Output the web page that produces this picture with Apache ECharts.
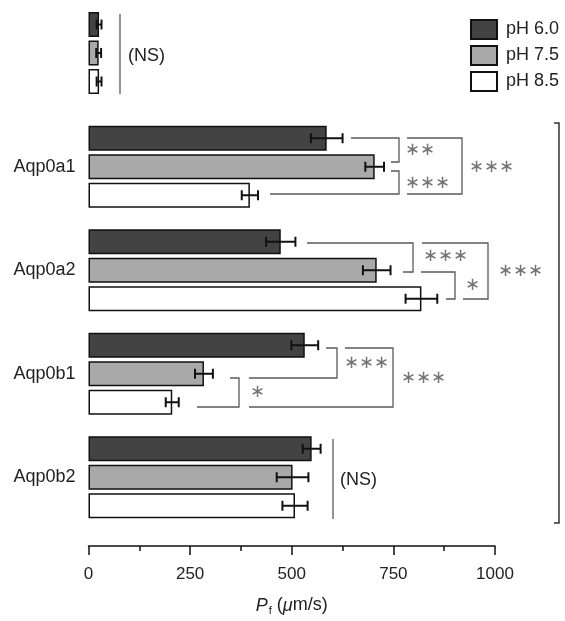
<!DOCTYPE html>
<html>
<head>
<meta charset="utf-8">
<script src="https://cdn.jsdelivr.net/npm/echarts@6/dist/echarts.min.js"></script>
<style>
html,body{margin:0;padding:0;background:#fff;}
#main{width:565px;height:621px;}
</style>
</head>
<body>
<div id="main"></div>
<script>
// ---- data ----
const seriesNames = ['pH 6.0', 'pH 7.5', 'pH 8.5'];
const groups = ['Aqp0a1', 'Aqp0a2', 'Aqp0b1', 'Aqp0b2'];
const ph60 = [586, 473, 532, 549];
const ph60Err = [39, 36, 33, 22];
const ph75 = [704, 709, 284, 502];
const ph75Err = [23, 34, 22, 39];
const ph85 = [397, 819, 206, 508];
const ph85Err = [20, 39, 16, 31];
const controlVals = [26, 25, 26];
const controlErr = [6, 6, 6];
const xTicks = [0, 250, 500, 750, 1000];

// ---- styles ----
const FONT = 'Liberation Sans, Arial, sans-serif';
const colors = ['#434343', '#a9a9a9', '#ffffff'];
const BAR_W = 25;
const BAR_GAP = 0.14;
const STEP = BAR_W * (1 + BAR_GAP);

const chart = echarts.init(document.getElementById('main'), null, {renderer: 'canvas'});

function errRender(seriesIdx) {
  return function (params, api) {
    const v = api.value(0), cat = api.value(1), e = api.value(2);
    const off = (seriesIdx - 1) * STEP;
    const c = api.coord([v, cat]);
    const l = api.coord([v - e, cat]);
    const r = api.coord([v + e, cat]);
    const y = c[1] + off;
    const st = {stroke: '#111', lineWidth: 2};
    return {
      type: 'group',
      children: [
        {type: 'line', shape: {x1: l[0], y1: y, x2: r[0], y2: y}, style: st},
        {type: 'line', shape: {x1: l[0], y1: y - 5, x2: l[0], y2: y + 5}, style: st},
        {type: 'line', shape: {x1: r[0], y1: y - 5, x2: r[0], y2: y + 5}, style: st}
      ]
    };
  };
}

const mainVals = [ph60, ph75, ph85];
const mainErrs = [ph60Err, ph75Err, ph85Err];

const series = [];
// control group (grid 0)
seriesNames.forEach((n, i) => {
  series.push({
    name: n, type: 'bar', xAxisIndex: 0, yAxisIndex: 0,
    data: [controlVals[i]], barWidth: BAR_W, barGap: (BAR_GAP * 100) + '%',
    itemStyle: {color: colors[i], borderColor: '#111', borderWidth: 1.5},
    silent: true
  });
});
seriesNames.forEach((n, i) => {
  series.push({
    type: 'custom', xAxisIndex: 0, yAxisIndex: 0, z: 5,
    renderItem: errRender(i),
    encode: {x: 0, y: 1},
    data: [[controlVals[i], 0, controlErr[i]]]
  });
});
// main groups (grid 1)
seriesNames.forEach((n, i) => {
  series.push({
    name: n, type: 'bar', xAxisIndex: 1, yAxisIndex: 1,
    data: mainVals[i], barWidth: BAR_W, barGap: (BAR_GAP * 100) + '%',
    itemStyle: {color: colors[i], borderColor: '#111', borderWidth: 1.5},
    silent: true
  });
});
seriesNames.forEach((n, i) => {
  series.push({
    type: 'custom', xAxisIndex: 1, yAxisIndex: 1, z: 5,
    renderItem: errRender(i),
    encode: {x: 0, y: 1},
    data: mainVals[i].map((v, k) => [v, k, mainErrs[i][k]])
  });
});

// ---- annotation brackets (pixel layout) ----
const BR = '#5a5a5a';
function pl(pts, color, w) {
  return {type: 'polyline', shape: {points: pts}, style: {stroke: color || BR, lineWidth: w || 1.3, fill: null}, silent: true};
}
function tx(str, x, y, size) {
  return {type: 'text', x: x, y: y, silent: true,
    style: {text: str, fill: size ? '#222' : '#747474', font: (size || 18) + 'px ' + FONT, verticalAlign: 'middle', align: 'left'}};
}
const STAR = '\u2217';
const graphics = [
  pl([[120, 14], [120, 94]]),
  tx('(NS)', 128, 56, 18),
  // Aqp0a1
  pl([[351, 138], [399, 138], [399, 162], [391, 162]]),
  pl([[391, 171], [399, 171], [399, 194], [270, 194]]),
  pl([[407, 138], [462, 138], [462, 194], [407, 194]]),
  tx(STAR + STAR, 405, 150),
  tx(STAR + STAR + STAR, 405, 183),
  tx(STAR + STAR + STAR, 469, 167),
  // Aqp0a2
  pl([[307, 243], [413, 243], [413, 272], [403, 272]]),
  pl([[421, 272], [455, 272], [455, 299], [446, 299]]),
  pl([[422, 243], [488, 243], [488, 299], [463, 299]]),
  tx(STAR + STAR + STAR, 423, 256),
  tx(STAR, 465, 285),
  tx(STAR + STAR + STAR, 498, 271),
  // Aqp0b1
  pl([[326, 348], [337, 348], [337, 378], [249, 378]]),
  pl([[230, 378], [239, 378], [239, 407], [197, 407]]),
  pl([[345, 348], [393, 348], [393, 407], [249, 407]]),
  tx(STAR + STAR + STAR, 344, 363),
  tx(STAR, 250, 392),
  tx(STAR + STAR + STAR, 401, 378),
  // Aqp0b2
  pl([[333, 439], [333, 519]]),
  tx('(NS)', 340, 480, 18),
  // big right bracket
  pl([[554, 123], [559, 123], [559, 523], [554, 523]], '#333', 1.5)
];

const option = {
  animation: false,
  backgroundColor: '#fff',
  textStyle: {fontFamily: FONT},
  legend: {
    data: seriesNames, orient: 'vertical', left: 470, top: 19, padding: 0,
    icon: 'rect',
    itemWidth: 26, itemHeight: 19, itemGap: 5,
    textStyle: {fontSize: 18, color: '#222', fontFamily: FONT, padding: [0, 0, 0, 4]},
    selectedMode: false
  },
  grid: [
    {left: 88.5, right: 70, top: 1, height: 104},
    {left: 88.5, right: 70, top: 115, height: 417}
  ],
  xAxis: [
    {gridIndex: 0, type: 'value', min: 0, max: 1000, show: false},
    {gridIndex: 1, type: 'value', min: 0, max: 1000, interval: 250, offset: 17,
      axisLine: {show: true, lineStyle: {color: '#111', width: 1.5}},
      axisTick: {show: true, inside: false, length: 9, lineStyle: {color: '#111', width: 1.5}},
      minorTick: {show: true, splitNumber: 2, length: 5, lineStyle: {color: '#111', width: 1.5}},
      splitLine: {show: false},
      axisLabel: {fontSize: 17, color: '#222', margin: 20, fontFamily: FONT,
        formatter: v => (xTicks.indexOf(v) >= 0 ? String(v) : '')},
      name: '{i|P}{s|f} ({i|\u03bc}m/s)',
      nameLocation: 'middle', nameGap: 49,
      nameTextStyle: {fontSize: 18, color: '#222', fontFamily: FONT,
        rich: {
          i: {fontStyle: 'italic', fontSize: 18, color: '#222', fontFamily: FONT},
          s: {fontSize: 11, color: '#222', fontFamily: FONT, padding: [10, 0, 0, 1]}
        }}
    }
  ],
  yAxis: [
    {gridIndex: 0, type: 'category', data: [''], inverse: true,
      axisLine: {show: false}, axisTick: {show: false}, axisLabel: {show: false}},
    {gridIndex: 1, type: 'category', data: groups, inverse: true,
      axisLine: {show: false}, axisTick: {show: false},
      axisLabel: {fontSize: 18, color: '#222', margin: 13, fontFamily: FONT}}
  ],
  series: series,
  graphic: graphics
};
chart.setOption(option);
</script>
</body>
</html>
